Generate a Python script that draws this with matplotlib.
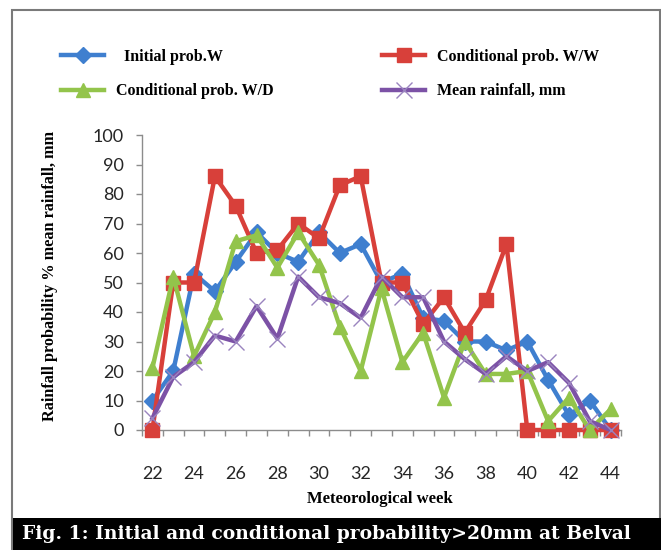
import matplotlib
matplotlib.use("Agg")
import matplotlib.pyplot as plt
from matplotlib.patches import Rectangle

# data
weeks = list(range(22, 45))
initial_w = [10, 20, 53, 47, 57, 67, 60, 57, 67, 60, 63, 50, 53, 38, 37, 30, 30, 27, 30, 17, 5, 10, 0]
cond_ww = [0, 50, 50, 86, 76, 60, 61, 70, 65, 83, 86, 50, 50, 36, 45, 33, 44, 63, 0, 0, 0, 0, 0]
cond_wd = [21, 52, 25, 40, 64, 66, 55, 67, 56, 35, 20, 48, 23, 33, 11, 30, 19, 19, 20, 3, 11, 0, 7]
mean_rain = [4, 18, 23, 32, 30, 42, 31, 52, 45, 43, 38, 52, 45, 45, 30, 24, 19, 25, 20, 23, 16, 3, 0]
xtick_labels = [str(w) for w in range(22, 45, 2)]

W, H = 661, 550
fig = plt.figure(figsize=(W / 100, H / 100), dpi=100)
ax = fig.add_axes([142 / W, 1 - 430 / H, (621 - 142) / W, (430 - 135) / H])

lw = 3.2
l1, = ax.plot(weeks, initial_w, color="#3f7fcf", lw=lw, marker="D", ms=8,
              clip_on=False, zorder=3)
l2, = ax.plot(weeks, cond_ww, color="#d8403a", lw=lw, marker="s", ms=10,
              clip_on=False, zorder=4)
l3, = ax.plot(weeks, cond_wd, color="#93c44b", lw=lw, marker="^", ms=10,
              clip_on=False, zorder=5)
l4, = ax.plot(weeks, mean_rain, color="#7c52a6", lw=lw, marker="x", ms=12,
              mew=1.0, mec="#9a84bf", clip_on=False, zorder=6)

ax.set_xlim(21.5, 44.5)
ax.set_ylim(0, 100)
ax.set_yticks(range(0, 101, 10))
ax.set_xticks(range(22, 45, 2))
ax.set_xticklabels(xtick_labels)
ax.set_xticks([w + 0.5 for w in range(21, 45)], minor=True)

for s in ["top", "right"]:
    ax.spines[s].set_visible(False)
for s in ["left", "bottom"]:
    ax.spines[s].set_color("#8c8c8c")
    ax.spines[s].set_linewidth(1.0)

ax.tick_params(axis="y", direction="out", length=4.5, width=1, color="#8c8c8c",
               pad=8.5, labelsize=13, labelcolor="#262626")
ax.tick_params(axis="x", which="major", length=0, pad=26, labelsize=13,
               labelcolor="#262626")
ax.tick_params(axis="x", which="minor", direction="out", length=4.5, width=1,
               color="#8c8c8c")
for lab in ax.get_xticklabels() + ax.get_yticklabels():
    lab.set_fontfamily("Lato")

serif = "Liberation Serif"
fig.text(50 / W, 1 - 276 / H, "Rainfall probability % mean rainfall, mm",
         rotation=90, ha="center", va="center", family=serif,
         weight="bold", size=11.7)
fig.text(380 / W, 1 - 499 / H, "Meteorological week", ha="center",
         va="center", family=serif, weight="bold", size=12)

leg = ax.legend([l1, l3, l2, l4],
                ["  Initial prob.W", "Conditional prob. W/D",
                 "Conditional prob. W/W", "Mean rainfall, mm"],
                ncol=2, loc="upper left", bbox_to_anchor=(61 / W, 1 - 49 / H),
                bbox_transform=fig.transFigure, frameon=False, borderpad=0,
                borderaxespad=0, handlelength=2.7, handletextpad=0.75,
                columnspacing=6.8, labelspacing=1.15, numpoints=1,
                prop={"family": serif, "weight": "bold", "size": 11.5})

# outer frame and caption band
fig.add_artist(Rectangle((12 / W, 0), (660 - 12) / W, 1 - 10 / H,
                         transform=fig.transFigure, fill=False,
                         edgecolor="#7a7a7a", lw=1.5))
fig.add_artist(Rectangle((13 / W, 0), 1, (550 - 518) / H,
                         transform=fig.transFigure, facecolor="black",
                         edgecolor="none"))
fig.text(326 / W, 1 - 534 / H,
         "Fig. 1: Initial and conditional probability>20mm at Belval",
         ha="center", va="center", color="white", family="DejaVu Serif",
         weight="bold", size=13.5)

fig.savefig("out.png", dpi=100)
